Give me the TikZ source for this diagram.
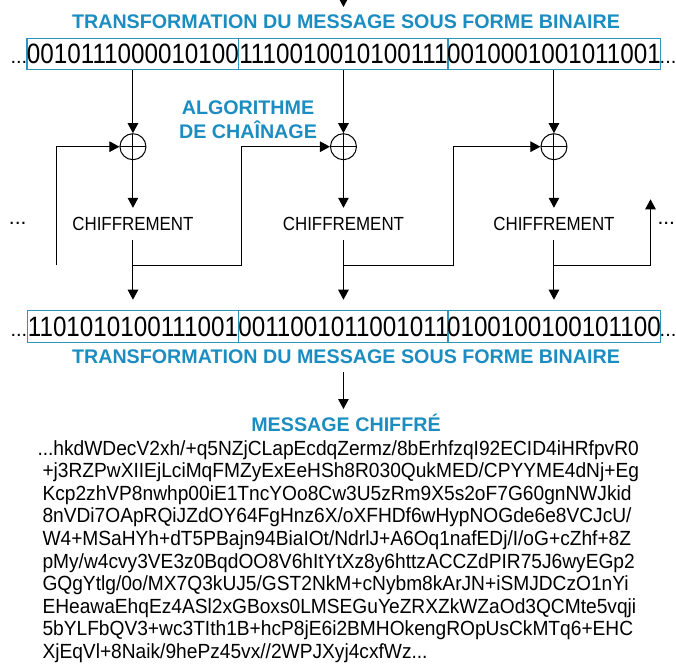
\documentclass[tikz,border=0pt]{standalone}
\usepackage{fontspec}
\usepackage{graphicx}
\setmainfont{Liberation Sans}
\usetikzlibrary{arrows.meta}
\definecolor{ttlblue}{RGB}{27,141,193}
\definecolor{bxblue}{RGB}{45,148,190}
\newcommand\nar[2]{\scalebox{#1}[1]{#2}}
\begin{document}
\begin{tikzpicture}[x=1pt,y=-1pt,line width=1pt,
  arr/.style={-{Triangle[length=10pt,width=10.5pt]}},
  ttl/.style={font=\fontsize{19.7}{20}\selectfont\bfseries,text=ttlblue,inner sep=0,anchor=base},
  bits/.style={draw=bxblue,line width=1.1pt,minimum width=210.5pt,minimum height=31.5pt,inner sep=0,font=\fontsize{28}{28}\selectfont},
  enc/.style={minimum height=31pt,inner sep=0,font=\fontsize{19}{19}\selectfont},
  xor/.style={circle,draw,minimum size=26pt,inner sep=0,
    path picture={\draw (path picture bounding box.north) -- (path picture bounding box.south)
      (path picture bounding box.west) -- (path picture bounding box.east);}},
  rowdots/.style={font=\fontsize{20}{20}\selectfont,inner sep=0},
  middots/.style={font=\fontsize{21}{21}\selectfont,inner sep=0,anchor=base west},
  msg/.style={font=\fontsize{20.5}{20.5}\selectfont,anchor=base west,inner sep=0}]
\useasboundingbox (0,0) rectangle (676,664);

% top arrow and title
\coordinate (tin) at (343.45,-2);
\coordinate (tend) at (343.45,7);
\draw[arr] (tin) -- (tend);
\node[ttl] (t1) at (346,28.3) {TRANSFORMATION DU MESSAGE SOUS FORME BINAIRE};

% first row of bits
\node[bits] (b1) at (132.95,53.8) {\nar{0.865}{0010111000010100}};
\node[bits] (b2) at (343.45,53.8) {\nar{0.865}{1110010010100111}};
\node[bits] (b3) at (553.95,53.8) {\nar{0.865}{0010001001011001}};
\node[rowdots,anchor=base east] (d1) at (27.7,63.8) {...};
\node[rowdots,anchor=base west] (d2) at (659.2,63.8) {...};

% chaining label
\node[ttl] (alg1) at (248,114.5) {ALGORITHME};
\node[ttl] (alg2) at (248,138.5) {DE CHAÎNAGE};

% xor
\node[xor] (x1) at (132.95,146.7) {};
\node[xor] (x2) at (343.45,146.7) {};
\node[xor] (x3) at (553.95,146.7) {};

% encryption
\node[enc] (e1) at (132.95,223.8) {\nar{0.89}{CHIFFREMENT}};
\node[enc] (e2) at (343.45,223.8) {\nar{0.89}{CHIFFREMENT}};
\node[enc] (e3) at (553.95,223.8) {\nar{0.89}{CHIFFREMENT}};
\node[middots] (d3) at (8.5,224.5) {...};
\node[middots] (d4) at (657,224.5) {...};

% second row of bits
\node[bits] (c1) at (132.95,326.5) {\nar{0.865}{1101010100111001}};
\node[bits] (c2) at (343.45,326.5) {\nar{0.865}{0011001011001011}};
\node[bits] (c3) at (553.95,326.5) {\nar{0.865}{0100100100101100}};
\node[rowdots,anchor=base east] (d5) at (27.7,336.5) {...};
\node[rowdots,anchor=base west] (d6) at (659.2,336.5) {...};
\node[ttl] (t2) at (346,363.5) {TRANSFORMATION DU MESSAGE SOUS FORME BINAIRE};

% connectors
\foreach \i in {1,2,3}{
  \draw[arr] (b\i) -- (x\i);
  \draw[arr] (x\i) -- (e\i);
  \draw[arr,shorten >=10.5pt] (e\i) -- (c\i);
}
\coordinate (k0) at (56.8,265);
\draw[arr] (k0) |- (x1);
\coordinate (j1) at (132.95,265);
\coordinate (k1) at (241.3,265);
\draw[arr] (j1) -- (k1) |- (x2);
\coordinate (j2) at (343.45,265);
\coordinate (k2) at (453.2,265);
\draw[arr] (j2) -- (k2) |- (x3);
\coordinate (j3) at (553.95,265);
\coordinate (k3) at (650.5,265);
\coordinate (out) at (650.5,199.3);
\draw[arr] (j3) -- (k3) -- (out);

% cipher message
\coordinate (min) at (343.45,372);
\coordinate (mend) at (343.45,409);
\draw[arr] (min) -- (mend);
\node[ttl] (mt) at (346,431) {MESSAGE CHIFFRÉ};
\node[msg] (m1) at (37,455) {\nar{0.935}{...hkdWDecV2xh/+q5NZjCLapEcdqZermz/8bErhfzqI92ECID4iHRfpvR0}};
\node[msg] (m2) at (42,477.6) {\nar{0.935}{+j3RZPwXIIEjLciMqFMZyExEeHSh8R030QukMED/CPYYME4dNj+Eg}};
\node[msg] (m3) at (42,500.2) {\nar{0.935}{Kcp2zhVP8nwhp00iE1TncYOo8Cw3U5zRm9X5s2oF7G60gnNWJkid}};
\node[msg] (m4) at (42,522.8) {\nar{0.935}{8nVDi7OApRQiJZdOY64FgHnz6X/oXFHDf6wHypNOGde6e8VCJcU/}};
\node[msg] (m5) at (42,545.4) {\nar{0.935}{W4+MSaHYh+dT5PBajn94BiaIOt/NdrlJ+A6Oq1nafEDj/I/oG+cZhf+8Z}};
\node[msg] (m6) at (42,568.0) {\nar{0.935}{pMy/w4cvy3VE3z0BqdOO8V6hItYtXz8y6httzACCZdPIR75J6wyEGp2}};
\node[msg] (m7) at (42,590.6) {\nar{0.935}{GQgYtlg/0o/MX7Q3kUJ5/GST2NkM+cNybm8kArJN+iSMJDCzO1nYi}};
\node[msg] (m8) at (42,613.2) {\nar{0.935}{EHeawaEhqEz4ASl2xGBoxs0LMSEGuYeZRXZkWZaOd3QCMte5vqji}};
\node[msg] (m9) at (42,635.8) {\nar{0.935}{5bYLFbQV3+wc3TIth1B+hcP8jE6i2BMHOkengROpUsCkMTq6+EHC}};
\node[msg] (m10) at (42,658.4) {\nar{0.935}{XjEqVl+8Naik/9hePz45vx//2WPJXyj4cxfWz...}};
\end{tikzpicture}
\end{document}
